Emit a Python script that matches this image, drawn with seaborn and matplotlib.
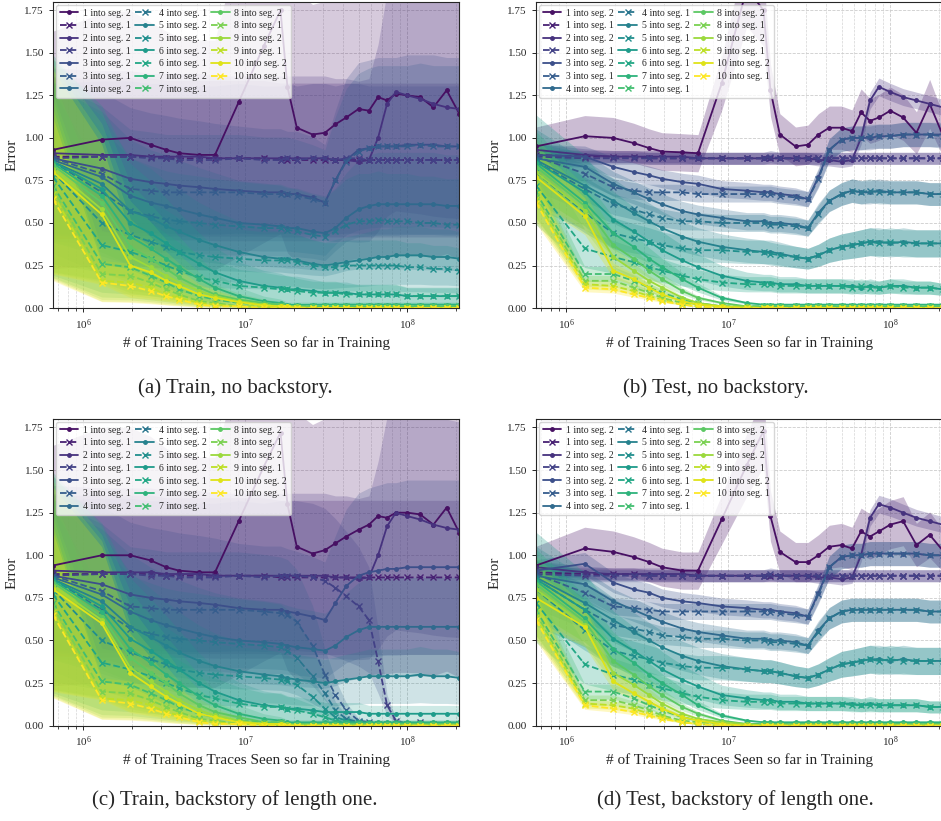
import numpy as np
import matplotlib
matplotlib.use("Agg")
import matplotlib.pyplot as plt
from matplotlib.ticker import FormatStrFormatter
import seaborn as sns

# training traces seen so far (millions)
traces_m = [0.65, 1.3, 1.95, 2.6, 3.25, 3.9, 5.2, 6.5, 9.1, 13, 16.5, 18.2, 20.8, 26, 31,
            36, 42, 50, 58, 66, 75, 85, 100, 120, 145, 175, 210]

# (a) train, no backstory -- "k into seg. 2" (solid) and "k into seg. 1" (dashed), k = 1..10
a_seg2 = [
    [0.93, 0.99, 1.00, 0.96, 0.93, 0.91, 0.90, 0.90, 1.21, 1.54, 1.75, 1.30, 1.06, 1.02, 1.03, 1.08, 1.12, 1.17, 1.16, 1.24, 1.22, 1.26, 1.25, 1.24, 1.18, 1.28, 1.14],
    [0.91, 0.90, 0.90, 0.89, 0.89, 0.89, 0.89, 0.88, 0.88, 0.88, 0.88, 0.88, 0.88, 0.88, 0.88, 0.87, 0.87, 0.86, 0.87, 1.00, 1.20, 1.27, 1.25, 1.23, 1.20, 1.18, 1.17],
    [0.88, 0.82, 0.76, 0.74, 0.73, 0.72, 0.71, 0.70, 0.69, 0.68, 0.68, 0.67, 0.67, 0.65, 0.62, 0.75, 0.87, 0.93, 0.94, 0.95, 0.95, 0.95, 0.96, 0.96, 0.96, 0.95, 0.95],
    [0.87, 0.77, 0.66, 0.62, 0.60, 0.58, 0.55, 0.53, 0.50, 0.49, 0.48, 0.47, 0.47, 0.45, 0.44, 0.47, 0.53, 0.58, 0.60, 0.61, 0.61, 0.61, 0.61, 0.61, 0.61, 0.60, 0.60],
    [0.86, 0.73, 0.57, 0.53, 0.48, 0.45, 0.40, 0.37, 0.33, 0.30, 0.29, 0.29, 0.28, 0.26, 0.25, 0.26, 0.27, 0.28, 0.29, 0.30, 0.30, 0.31, 0.31, 0.31, 0.30, 0.30, 0.29],
    [0.86, 0.70, 0.50, 0.44, 0.38, 0.33, 0.26, 0.21, 0.16, 0.13, 0.12, 0.11, 0.11, 0.10, 0.09, 0.09, 0.09, 0.08, 0.08, 0.08, 0.08, 0.08, 0.07, 0.07, 0.07, 0.07, 0.07],
    [0.85, 0.66, 0.42, 0.35, 0.29, 0.24, 0.17, 0.12, 0.07, 0.04, 0.03, 0.02, 0.02, 0.02, 0.02, 0.02, 0.02, 0.02, 0.02, 0.02, 0.02, 0.02, 0.02, 0.02, 0.02, 0.02, 0.02],
    [0.84, 0.62, 0.36, 0.29, 0.23, 0.18, 0.12, 0.08, 0.05, 0.03, 0.02, 0.01, 0.01, 0.01, 0.01, 0.01, 0.01, 0.01, 0.01, 0.01, 0.01, 0.01, 0.01, 0.01, 0.01, 0.01, 0.01],
    [0.82, 0.58, 0.30, 0.24, 0.19, 0.15, 0.10, 0.07, 0.04, 0.02, 0.01, 0.01, 0.01, 0.00, 0.00, 0.00, 0.00, 0.00, 0.00, 0.00, 0.00, 0.00, 0.00, 0.00, 0.00, 0.00, 0.00],
    [0.80, 0.55, 0.25, 0.21, 0.16, 0.13, 0.08, 0.06, 0.035, 0.015, 0.01, 0.01, 0.00, 0.00, 0.00, 0.00, 0.00, 0.00, 0.00, 0.00, 0.00, 0.00, 0.00, 0.00, 0.00, 0.00, 0.00],
]
a_seg1 = [
    [0.89, 0.89, 0.89, 0.89, 0.88, 0.88, 0.88, 0.88, 0.88, 0.88, 0.87, 0.87, 0.87, 0.87, 0.87, 0.87, 0.87, 0.87, 0.87, 0.87, 0.87, 0.87, 0.87, 0.87, 0.87, 0.87, 0.87],
    [0.88, 0.89, 0.89, 0.88, 0.88, 0.87, 0.87, 0.87, 0.88, 0.87, 0.87, 0.88, 0.87, 0.88, 0.88, 0.87, 0.88, 0.88, 0.87, 0.87, 0.87, 0.87, 0.87, 0.87, 0.87, 0.87, 0.87],
    [0.88, 0.79, 0.70, 0.69, 0.68, 0.68, 0.68, 0.68, 0.68, 0.67, 0.67, 0.67, 0.66, 0.64, 0.62, 0.75, 0.86, 0.92, 0.94, 0.95, 0.95, 0.95, 0.95, 0.96, 0.95, 0.95, 0.95],
    [0.86, 0.68, 0.57, 0.54, 0.52, 0.51, 0.50, 0.49, 0.48, 0.47, 0.47, 0.46, 0.45, 0.43, 0.42, 0.45, 0.49, 0.51, 0.51, 0.52, 0.51, 0.51, 0.51, 0.50, 0.50, 0.49, 0.49],
    [0.80, 0.50, 0.43, 0.39, 0.36, 0.33, 0.31, 0.30, 0.29, 0.28, 0.28, 0.28, 0.27, 0.25, 0.24, 0.24, 0.25, 0.25, 0.25, 0.25, 0.25, 0.25, 0.24, 0.24, 0.23, 0.23, 0.22],
    [0.77, 0.37, 0.33, 0.29, 0.25, 0.22, 0.18, 0.16, 0.13, 0.12, 0.11, 0.11, 0.10, 0.09, 0.09, 0.09, 0.08, 0.08, 0.08, 0.08, 0.08, 0.08, 0.07, 0.07, 0.07, 0.07, 0.07],
    [0.72, 0.26, 0.24, 0.19, 0.15, 0.11, 0.07, 0.05, 0.03, 0.02, 0.02, 0.01, 0.01, 0.01, 0.01, 0.01, 0.01, 0.01, 0.01, 0.01, 0.01, 0.01, 0.01, 0.01, 0.01, 0.01, 0.01],
    [0.70, 0.20, 0.19, 0.15, 0.11, 0.08, 0.04, 0.03, 0.01, 0.01, 0.01, 0.00, 0.00, 0.00, 0.00, 0.00, 0.00, 0.00, 0.00, 0.00, 0.00, 0.00, 0.00, 0.00, 0.00, 0.00, 0.00],
    [0.67, 0.16, 0.15, 0.12, 0.08, 0.06, 0.03, 0.02, 0.01, 0.01, 0.00, 0.00, 0.00, 0.00, 0.00, 0.00, 0.00, 0.00, 0.00, 0.00, 0.00, 0.00, 0.00, 0.00, 0.00, 0.00, 0.00],
    [0.64, 0.15, 0.13, 0.10, 0.07, 0.05, 0.02, 0.01, 0.01, 0.00, 0.00, 0.00, 0.00, 0.00, 0.00, 0.00, 0.00, 0.00, 0.00, 0.00, 0.00, 0.00, 0.00, 0.00, 0.00, 0.00, 0.00],
]

# (b) test, no backstory
b_seg2 = [
    [0.95, 1.01, 1.00, 0.97, 0.94, 0.92, 0.915, 0.91, 1.32, 1.88, 1.75, 1.28, 1.02, 0.95, 0.96, 1.02, 1.06, 1.06, 1.04, 1.15, 1.10, 1.12, 1.16, 1.12, 1.03, 1.20, 1.02],
    [0.93, 0.90, 0.89, 0.89, 0.89, 0.89, 0.89, 0.88, 0.88, 0.88, 0.88, 0.88, 0.88, 0.88, 0.88, 0.87, 0.87, 0.86, 0.87, 1.00, 1.22, 1.30, 1.27, 1.24, 1.22, 1.20, 1.18],
    [0.90, 0.89, 0.83, 0.80, 0.78, 0.76, 0.74, 0.73, 0.70, 0.69, 0.68, 0.68, 0.67, 0.66, 0.64, 0.77, 0.93, 0.99, 1.00, 1.00, 1.00, 1.01, 1.01, 1.02, 1.02, 1.02, 1.02],
    [0.88, 0.83, 0.73, 0.68, 0.64, 0.61, 0.57, 0.55, 0.53, 0.51, 0.51, 0.50, 0.50, 0.49, 0.47, 0.56, 0.63, 0.67, 0.69, 0.68, 0.68, 0.69, 0.68, 0.68, 0.68, 0.67, 0.67],
    [0.87, 0.72, 0.63, 0.56, 0.51, 0.47, 0.42, 0.39, 0.36, 0.34, 0.33, 0.33, 0.32, 0.30, 0.29, 0.31, 0.34, 0.36, 0.37, 0.38, 0.39, 0.39, 0.38, 0.39, 0.38, 0.38, 0.38],
    [0.86, 0.68, 0.52, 0.45, 0.39, 0.34, 0.28, 0.24, 0.19, 0.16, 0.15, 0.15, 0.14, 0.14, 0.13, 0.13, 0.13, 0.13, 0.13, 0.12, 0.13, 0.12, 0.13, 0.13, 0.12, 0.12, 0.11],
    [0.85, 0.62, 0.44, 0.36, 0.29, 0.24, 0.17, 0.12, 0.06, 0.03, 0.02, 0.02, 0.02, 0.02, 0.02, 0.02, 0.02, 0.02, 0.02, 0.02, 0.02, 0.02, 0.02, 0.02, 0.02, 0.02, 0.02],
    [0.83, 0.60, 0.37, 0.29, 0.22, 0.17, 0.10, 0.06, 0.03, 0.01, 0.01, 0.01, 0.01, 0.01, 0.01, 0.01, 0.01, 0.01, 0.01, 0.01, 0.01, 0.01, 0.01, 0.01, 0.01, 0.01, 0.01],
    [0.80, 0.57, 0.30, 0.22, 0.16, 0.12, 0.06, 0.03, 0.01, 0.01, 0.00, 0.00, 0.00, 0.00, 0.00, 0.00, 0.00, 0.00, 0.00, 0.00, 0.00, 0.00, 0.00, 0.00, 0.00, 0.00, 0.00],
    [0.77, 0.54, 0.22, 0.17, 0.12, 0.08, 0.04, 0.02, 0.01, 0.00, 0.00, 0.00, 0.00, 0.00, 0.00, 0.00, 0.00, 0.00, 0.00, 0.00, 0.00, 0.00, 0.00, 0.00, 0.00, 0.00, 0.00],
]
b_seg1 = [
    [0.90, 0.89, 0.89, 0.89, 0.88, 0.88, 0.88, 0.88, 0.88, 0.88, 0.88, 0.88, 0.88, 0.88, 0.88, 0.88, 0.88, 0.88, 0.88, 0.88, 0.88, 0.88, 0.88, 0.88, 0.88, 0.88, 0.88],
    [0.89, 0.88, 0.88, 0.88, 0.88, 0.88, 0.88, 0.88, 0.88, 0.88, 0.88, 0.89, 0.88, 0.88, 0.88, 0.88, 0.88, 0.88, 0.88, 0.88, 0.88, 0.88, 0.88, 0.88, 0.88, 0.88, 0.88],
    [0.89, 0.79, 0.71, 0.69, 0.68, 0.68, 0.68, 0.67, 0.67, 0.67, 0.67, 0.67, 0.66, 0.65, 0.64, 0.76, 0.93, 0.99, 1.00, 1.00, 1.01, 1.01, 1.01, 1.02, 1.02, 1.02, 1.01],
    [0.86, 0.70, 0.61, 0.58, 0.55, 0.53, 0.51, 0.51, 0.50, 0.50, 0.50, 0.49, 0.49, 0.48, 0.47, 0.55, 0.63, 0.67, 0.69, 0.68, 0.69, 0.68, 0.68, 0.68, 0.68, 0.67, 0.67],
    [0.80, 0.56, 0.44, 0.41, 0.39, 0.37, 0.35, 0.34, 0.34, 0.33, 0.33, 0.32, 0.31, 0.30, 0.29, 0.31, 0.34, 0.36, 0.37, 0.38, 0.39, 0.38, 0.39, 0.38, 0.38, 0.38, 0.38],
    [0.72, 0.35, 0.30, 0.27, 0.24, 0.22, 0.19, 0.17, 0.15, 0.14, 0.14, 0.14, 0.13, 0.13, 0.13, 0.13, 0.13, 0.13, 0.12, 0.13, 0.12, 0.12, 0.13, 0.12, 0.12, 0.12, 0.11],
    [0.68, 0.20, 0.20, 0.16, 0.12, 0.09, 0.05, 0.03, 0.01, 0.01, 0.01, 0.01, 0.01, 0.01, 0.01, 0.01, 0.01, 0.01, 0.01, 0.01, 0.01, 0.01, 0.01, 0.01, 0.01, 0.01, 0.01],
    [0.66, 0.16, 0.16, 0.12, 0.09, 0.06, 0.03, 0.02, 0.01, 0.00, 0.00, 0.00, 0.00, 0.00, 0.00, 0.00, 0.00, 0.00, 0.00, 0.00, 0.00, 0.00, 0.00, 0.00, 0.00, 0.00, 0.00],
    [0.64, 0.14, 0.13, 0.10, 0.07, 0.05, 0.02, 0.01, 0.00, 0.00, 0.00, 0.00, 0.00, 0.00, 0.00, 0.00, 0.00, 0.00, 0.00, 0.00, 0.00, 0.00, 0.00, 0.00, 0.00, 0.00, 0.00],
    [0.62, 0.12, 0.11, 0.08, 0.06, 0.04, 0.02, 0.01, 0.00, 0.00, 0.00, 0.00, 0.00, 0.00, 0.00, 0.00, 0.00, 0.00, 0.00, 0.00, 0.00, 0.00, 0.00, 0.00, 0.00, 0.00, 0.00],
]

# (c) train, backstory of length one
c_seg2 = [
    [0.94, 1.00, 1.00, 0.97, 0.93, 0.91, 0.90, 0.90, 1.20, 1.52, 1.72, 1.30, 1.05, 1.01, 1.03, 1.07, 1.11, 1.15, 1.18, 1.23, 1.22, 1.25, 1.25, 1.24, 1.18, 1.28, 1.13],
    [0.91, 0.90, 0.90, 0.90, 0.89, 0.89, 0.89, 0.88, 0.88, 0.88, 0.88, 0.88, 0.88, 0.88, 0.88, 0.87, 0.87, 0.86, 0.87, 1.00, 1.17, 1.25, 1.23, 1.21, 1.18, 1.16, 1.15],
    [0.88, 0.83, 0.77, 0.75, 0.74, 0.73, 0.72, 0.71, 0.69, 0.68, 0.68, 0.67, 0.66, 0.64, 0.62, 0.72, 0.82, 0.88, 0.90, 0.91, 0.92, 0.92, 0.93, 0.93, 0.93, 0.93, 0.93],
    [0.87, 0.77, 0.67, 0.62, 0.59, 0.57, 0.54, 0.52, 0.50, 0.49, 0.48, 0.47, 0.46, 0.45, 0.44, 0.47, 0.52, 0.56, 0.58, 0.58, 0.58, 0.58, 0.58, 0.58, 0.58, 0.58, 0.58],
    [0.86, 0.73, 0.58, 0.52, 0.47, 0.43, 0.38, 0.35, 0.32, 0.30, 0.29, 0.28, 0.27, 0.26, 0.25, 0.26, 0.27, 0.28, 0.29, 0.29, 0.29, 0.29, 0.29, 0.30, 0.29, 0.29, 0.28],
    [0.86, 0.70, 0.51, 0.44, 0.38, 0.33, 0.25, 0.20, 0.15, 0.12, 0.11, 0.10, 0.10, 0.09, 0.08, 0.08, 0.08, 0.08, 0.07, 0.07, 0.07, 0.07, 0.07, 0.07, 0.07, 0.07, 0.07],
    [0.85, 0.67, 0.45, 0.37, 0.30, 0.25, 0.17, 0.12, 0.07, 0.04, 0.03, 0.02, 0.02, 0.02, 0.02, 0.02, 0.02, 0.02, 0.02, 0.02, 0.02, 0.02, 0.02, 0.02, 0.02, 0.02, 0.02],
    [0.84, 0.64, 0.40, 0.31, 0.25, 0.19, 0.12, 0.08, 0.05, 0.02, 0.02, 0.01, 0.01, 0.01, 0.01, 0.01, 0.01, 0.01, 0.01, 0.01, 0.01, 0.01, 0.01, 0.01, 0.01, 0.01, 0.01],
    [0.82, 0.62, 0.34, 0.26, 0.20, 0.15, 0.09, 0.06, 0.03, 0.01, 0.01, 0.01, 0.00, 0.00, 0.00, 0.00, 0.00, 0.00, 0.00, 0.00, 0.00, 0.00, 0.00, 0.00, 0.00, 0.00, 0.00],
    [0.80, 0.60, 0.31, 0.23, 0.17, 0.13, 0.07, 0.05, 0.02, 0.01, 0.01, 0.00, 0.00, 0.00, 0.00, 0.00, 0.00, 0.00, 0.00, 0.00, 0.00, 0.00, 0.00, 0.00, 0.00, 0.00, 0.00],
]
c_seg1 = [
    [0.89, 0.89, 0.89, 0.89, 0.88, 0.88, 0.88, 0.88, 0.88, 0.88, 0.87, 0.87, 0.87, 0.87, 0.87, 0.87, 0.87, 0.87, 0.87, 0.87, 0.87, 0.87, 0.87, 0.87, 0.87, 0.87, 0.87],
    [0.88, 0.89, 0.89, 0.88, 0.88, 0.87, 0.87, 0.87, 0.88, 0.87, 0.88, 0.88, 0.88, 0.87, 0.85, 0.81, 0.76, 0.70, 0.62, 0.38, 0.12, 0.03, 0.01, 0.02, 0.01, 0.01, 0.01],
    [0.88, 0.79, 0.70, 0.69, 0.68, 0.68, 0.68, 0.68, 0.68, 0.67, 0.66, 0.65, 0.61, 0.47, 0.30, 0.18, 0.09, 0.03, 0.02, 0.01, 0.01, 0.01, 0.01, 0.01, 0.01, 0.01, 0.01],
    [0.86, 0.68, 0.57, 0.54, 0.52, 0.51, 0.50, 0.49, 0.48, 0.47, 0.46, 0.44, 0.40, 0.29, 0.19, 0.09, 0.04, 0.02, 0.01, 0.01, 0.01, 0.01, 0.01, 0.01, 0.01, 0.01, 0.01],
    [0.80, 0.50, 0.43, 0.39, 0.36, 0.33, 0.31, 0.30, 0.29, 0.28, 0.27, 0.26, 0.24, 0.17, 0.10, 0.05, 0.03, 0.02, 0.01, 0.01, 0.01, 0.01, 0.01, 0.01, 0.01, 0.01, 0.01],
    [0.77, 0.37, 0.33, 0.29, 0.25, 0.22, 0.18, 0.16, 0.13, 0.11, 0.11, 0.10, 0.09, 0.07, 0.05, 0.03, 0.02, 0.01, 0.01, 0.01, 0.01, 0.01, 0.01, 0.01, 0.01, 0.01, 0.01],
    [0.72, 0.26, 0.24, 0.19, 0.15, 0.11, 0.07, 0.05, 0.03, 0.02, 0.02, 0.01, 0.01, 0.01, 0.01, 0.01, 0.01, 0.01, 0.01, 0.01, 0.01, 0.01, 0.01, 0.01, 0.01, 0.01, 0.01],
    [0.70, 0.20, 0.19, 0.15, 0.11, 0.08, 0.04, 0.03, 0.01, 0.01, 0.01, 0.00, 0.00, 0.00, 0.00, 0.00, 0.00, 0.00, 0.00, 0.00, 0.00, 0.00, 0.00, 0.00, 0.00, 0.00, 0.00],
    [0.67, 0.16, 0.15, 0.12, 0.08, 0.06, 0.03, 0.02, 0.01, 0.01, 0.00, 0.00, 0.00, 0.00, 0.00, 0.00, 0.00, 0.00, 0.00, 0.00, 0.00, 0.00, 0.00, 0.00, 0.00, 0.00, 0.00],
    [0.65, 0.15, 0.13, 0.10, 0.07, 0.05, 0.02, 0.01, 0.01, 0.00, 0.00, 0.00, 0.00, 0.00, 0.00, 0.00, 0.00, 0.00, 0.00, 0.00, 0.00, 0.00, 0.00, 0.00, 0.00, 0.00, 0.00],
]

# (d) test, backstory of length one
d_seg2 = [
    [0.94, 1.04, 1.02, 0.99, 0.96, 0.93, 0.91, 0.91, 1.21, 1.53, 1.73, 1.23, 1.02, 0.96, 0.96, 1.00, 1.05, 1.06, 1.04, 1.14, 1.11, 1.14, 1.18, 1.20, 1.06, 1.12, 1.03],
    [0.93, 0.90, 0.89, 0.89, 0.89, 0.89, 0.89, 0.88, 0.88, 0.88, 0.88, 0.88, 0.88, 0.88, 0.88, 0.87, 0.87, 0.86, 0.87, 1.00, 1.22, 1.30, 1.28, 1.25, 1.22, 1.20, 1.18],
    [0.91, 0.95, 0.84, 0.80, 0.78, 0.75, 0.73, 0.72, 0.70, 0.69, 0.68, 0.68, 0.67, 0.66, 0.64, 0.78, 0.93, 0.99, 1.00, 1.00, 1.01, 1.01, 1.01, 1.01, 1.01, 1.00, 1.00],
    [0.88, 0.83, 0.73, 0.68, 0.64, 0.61, 0.57, 0.55, 0.53, 0.51, 0.51, 0.50, 0.50, 0.49, 0.47, 0.56, 0.63, 0.67, 0.68, 0.68, 0.68, 0.68, 0.68, 0.68, 0.68, 0.67, 0.67],
    [0.87, 0.72, 0.62, 0.55, 0.50, 0.46, 0.41, 0.38, 0.35, 0.33, 0.32, 0.32, 0.31, 0.29, 0.28, 0.30, 0.33, 0.36, 0.37, 0.38, 0.39, 0.39, 0.38, 0.39, 0.38, 0.38, 0.38],
    [0.86, 0.68, 0.51, 0.44, 0.38, 0.33, 0.27, 0.23, 0.18, 0.16, 0.15, 0.15, 0.14, 0.14, 0.13, 0.13, 0.13, 0.13, 0.13, 0.12, 0.13, 0.12, 0.12, 0.12, 0.12, 0.11, 0.11],
    [0.85, 0.63, 0.45, 0.37, 0.30, 0.25, 0.18, 0.12, 0.06, 0.03, 0.02, 0.02, 0.02, 0.02, 0.02, 0.02, 0.02, 0.02, 0.02, 0.02, 0.02, 0.02, 0.02, 0.02, 0.02, 0.02, 0.02],
    [0.83, 0.61, 0.38, 0.30, 0.23, 0.18, 0.11, 0.07, 0.03, 0.01, 0.01, 0.01, 0.01, 0.01, 0.01, 0.01, 0.01, 0.01, 0.01, 0.01, 0.01, 0.01, 0.01, 0.01, 0.01, 0.01, 0.01],
    [0.80, 0.59, 0.31, 0.24, 0.18, 0.13, 0.07, 0.04, 0.02, 0.01, 0.00, 0.00, 0.00, 0.00, 0.00, 0.00, 0.00, 0.00, 0.00, 0.00, 0.00, 0.00, 0.00, 0.00, 0.00, 0.00, 0.00],
    [0.75, 0.58, 0.26, 0.19, 0.14, 0.10, 0.05, 0.03, 0.01, 0.00, 0.00, 0.00, 0.00, 0.00, 0.00, 0.00, 0.00, 0.00, 0.00, 0.00, 0.00, 0.00, 0.00, 0.00, 0.00, 0.00, 0.00],
]
d_seg1 = [
    [0.90, 0.89, 0.89, 0.89, 0.88, 0.88, 0.88, 0.88, 0.88, 0.88, 0.88, 0.88, 0.88, 0.88, 0.88, 0.88, 0.88, 0.88, 0.88, 0.88, 0.88, 0.88, 0.88, 0.88, 0.88, 0.88, 0.88],
    [0.89, 0.88, 0.88, 0.88, 0.88, 0.88, 0.88, 0.88, 0.88, 0.88, 0.88, 0.89, 0.88, 0.88, 0.88, 0.88, 0.88, 0.88, 0.88, 0.88, 0.88, 0.88, 0.88, 0.88, 0.88, 0.88, 0.88],
    [0.89, 0.78, 0.70, 0.69, 0.68, 0.67, 0.67, 0.67, 0.67, 0.67, 0.67, 0.67, 0.66, 0.65, 0.64, 0.77, 0.93, 0.99, 1.00, 1.00, 1.01, 1.01, 1.01, 1.01, 1.01, 1.00, 1.00],
    [0.86, 0.68, 0.59, 0.57, 0.55, 0.53, 0.52, 0.51, 0.51, 0.50, 0.50, 0.49, 0.49, 0.48, 0.47, 0.55, 0.63, 0.67, 0.68, 0.68, 0.68, 0.68, 0.68, 0.68, 0.68, 0.67, 0.67],
    [0.80, 0.56, 0.44, 0.41, 0.39, 0.37, 0.35, 0.34, 0.34, 0.33, 0.32, 0.32, 0.31, 0.29, 0.28, 0.30, 0.33, 0.36, 0.37, 0.38, 0.39, 0.38, 0.39, 0.38, 0.38, 0.38, 0.38],
    [0.72, 0.36, 0.30, 0.27, 0.24, 0.22, 0.19, 0.17, 0.15, 0.14, 0.14, 0.14, 0.13, 0.13, 0.13, 0.13, 0.13, 0.13, 0.12, 0.12, 0.12, 0.12, 0.12, 0.12, 0.12, 0.11, 0.11],
    [0.68, 0.20, 0.20, 0.16, 0.12, 0.09, 0.05, 0.03, 0.01, 0.01, 0.01, 0.01, 0.01, 0.01, 0.01, 0.01, 0.01, 0.01, 0.01, 0.01, 0.01, 0.01, 0.01, 0.01, 0.01, 0.01, 0.01],
    [0.66, 0.15, 0.15, 0.12, 0.09, 0.06, 0.03, 0.02, 0.01, 0.00, 0.00, 0.00, 0.00, 0.00, 0.00, 0.00, 0.00, 0.00, 0.00, 0.00, 0.00, 0.00, 0.00, 0.00, 0.00, 0.00, 0.00],
    [0.64, 0.13, 0.12, 0.10, 0.07, 0.05, 0.02, 0.01, 0.00, 0.00, 0.00, 0.00, 0.00, 0.00, 0.00, 0.00, 0.00, 0.00, 0.00, 0.00, 0.00, 0.00, 0.00, 0.00, 0.00, 0.00, 0.00],
    [0.62, 0.12, 0.10, 0.08, 0.06, 0.04, 0.02, 0.01, 0.00, 0.00, 0.00, 0.00, 0.00, 0.00, 0.00, 0.00, 0.00, 0.00, 0.00, 0.00, 0.00, 0.00, 0.00, 0.00, 0.00, 0.00, 0.00],
]

# relative half-width of the shaded band, per k
train_spread2 = [0.75, 0.55, 0.55, 0.50, 0.55, 0.70, 0.75, 0.75, 0.75, 0.75]
train_spread1 = [0.52, 0.50, 0.50, 0.55, 0.60, 0.75, 0.75, 0.75, 0.75, 0.75]
test_spread2 = [0.12, 0.04, 0.07, 0.10, 0.21, 0.32, 0.22, 0.20, 0.20, 0.20]
test_spread1 = [0.04, 0.04, 0.07, 0.10, 0.21, 0.32, 0.22, 0.20, 0.20, 0.20]

captions = ["(a) Train, no backstory.", "(b) Test, no backstory.",
            "(c) Train, backstory of length one.", "(d) Test, backstory of length one."]

sns.set_style("whitegrid", {"xtick.bottom": True, "ytick.left": True,
                            "axes.edgecolor": "0.15", "grid.linestyle": "--"})
plt.rcParams["font.family"] = "serif"
plt.rcParams["font.serif"] = ["Liberation Serif", "DejaVu Serif"]
plt.rcParams["mathtext.fontset"] = "stix"

cmap = sns.color_palette("viridis", as_cmap=True)
colors = [cmap(0.04 + 0.96 * i / 19) for i in range(20)]
x = np.array(traces_m) * 1e6


def draw_panel(ax, seg2, seg1, spread2, spread1, alpha):
    for k in range(10):
        for j, (vals, s, ls, mk, seg) in enumerate([(seg2[k], spread2[k], "-", ".", 2),
                                                    (seg1[k], spread1[k], "--", "x", 1)]):
            c = colors[2 * k + j]
            y = np.array(vals)
            ax.fill_between(x, y * (1 - s), y * (1 + s), color=c, alpha=alpha, lw=0)
            sns.lineplot(x=x, y=y, ax=ax, color=c, linestyle=ls, marker=mk,
                         markersize=5 if mk == "." else 4.5, markeredgecolor=c,
                         markeredgewidth=1.0, linewidth=1.3, errorbar=None,
                         label=f"{k + 1} into seg. {seg}")
    ax.set_xscale("log")
    ax.set_xlim(x[0], x[-1])
    ax.set_ylim(0, 1.8)
    ax.set_yticks(np.arange(0, 1.76, 0.25))
    ax.yaxis.set_major_formatter(FormatStrFormatter("%.2f"))
    ax.grid(True, which="major", ls="--", lw=0.6, color="#cccccc")
    ax.grid(True, which="minor", axis="x", ls="--", lw=0.5, color="#d5d5d5")
    ax.tick_params(axis="both", which="major", labelsize=8, length=3, width=0.7)
    ax.tick_params(axis="x", which="minor", length=2, width=0.6)
    ax.set_xlabel("# of Training Traces Seen so far in Training", fontsize=11, labelpad=3)
    ax.set_ylabel("Error", fontsize=11, labelpad=4)
    ax.legend(ncol=3, loc="upper left", fontsize=7, handlelength=1.9, handletextpad=0.5,
              columnspacing=0.45, labelspacing=0.38, borderpad=0.4, borderaxespad=0.3,
              framealpha=0.8)


fig = plt.figure(figsize=(9.41, 8.21), dpi=100)
rects = [[0.0563, 0.6248, 0.4320, 0.3730], [0.5696, 0.6248, 0.4320, 0.3730],
         [0.0563, 0.1161, 0.4320, 0.3736], [0.5696, 0.1161, 0.4320, 0.3736]]
panels = [(a_seg2, a_seg1, train_spread2, train_spread1, 0.22),
          (b_seg2, b_seg1, test_spread2, test_spread1, 0.28),
          (c_seg2, c_seg1, train_spread2, train_spread1, 0.22),
          (d_seg2, d_seg1, test_spread2, test_spread1, 0.28)]
for rect, (s2, s1, sp2, sp1, al) in zip(rects, panels):
    ax = fig.add_axes(rect)
    draw_panel(ax, s2, s1, sp2, sp1, al)

cap_pos = [(0.25, 0.527), (0.761, 0.527), (0.25, 0.026), (0.781, 0.026)]
for (cx, cy), text in zip(cap_pos, captions):
    fig.text(cx, cy, text, ha="center", va="center", fontsize=15)

fig.savefig("out.png", dpi=100)
